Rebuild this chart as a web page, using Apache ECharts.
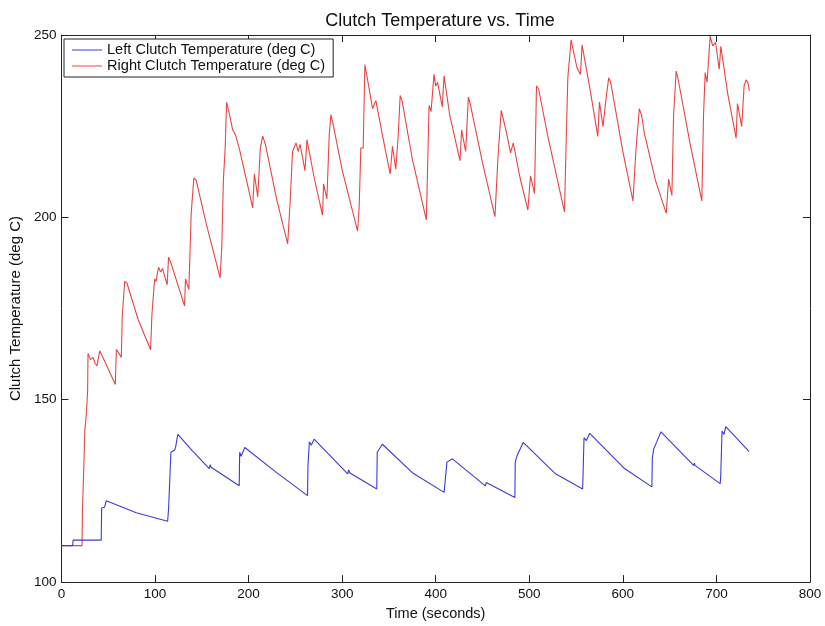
<!DOCTYPE html>
<html>
<head>
<meta charset="utf-8">
<script src="https://cdn.jsdelivr.net/npm/echarts@6/dist/echarts.min.js"></script>
<style>
html,body{margin:0;padding:0;background:#fff;overflow:hidden;}
#c{width:825px;height:626px;}
</style>
</head>
<body>
<div id="c"></div>
<script>
var titleText = 'Clutch Temperature vs. Time';
var xName = 'Time (seconds)';
var yName = 'Clutch Temperature (deg C)';
var leftName = 'Left Clutch Temperature (deg C)';
var rightName = 'Right Clutch Temperature (deg C)';

var leftTime = [0,12,12.5,42.5,43,46,48,80,113.5,114.5,117,121,122,124.4,140,158,159,160,190,190.5,192,196,230,263,263.5,265,267,270,306,307,308,337,337.5,339,343,375,409,410.5,412,414,417.8,453,454,455,484.6,485,487,489,493.5,528,557,557.5,558.5,561,564.6,601,602,603,631,631.5,633,636,640.7,675.6,676.5,677,704,704.5,706,708,710,712,735];
var leftTemp = [110,110,111.5,111.5,120.3,120.5,122.3,119,116.7,120,135.6,136.2,137,140.5,136,131.1,132.2,131.5,126.4,135.6,134.5,136.9,130,123.7,132,138.5,137.5,139.2,129.7,130.8,130,125.5,135.6,136,137.8,130,124.6,128.8,132.9,132.5,133.8,126.4,127.3,126.8,123.2,132.9,134.7,135,138.3,129.7,125.5,130,139.6,138.8,140.8,131.3,131.8,131.2,126.1,134,136.5,138.3,141.2,132,132.6,132,127,128.5,141.4,140.5,142.6,142.6,135.8];

var rightTime = [0,22,22.5,24,25,26.7,28,28.4,31,33.8,36,38,40.9,50,57.6,58.7,62,64,65,67.6,70,82,95.3,96.7,99.6,101,103.8,106,108,113,114.5,117,131.6,132.6,136.2,138.7,141.5,144,155,169.6,171.4,173.1,175,176.5,179,183,186,190,198,204.4,206.2,209.8,212.6,215,218,230,241.8,244.6,247,250.7,253,255,260.3,262.4,270,279,280.2,283.7,286.2,288,290,300,316.5,318.2,320,322.5,324.3,327,332.5,336,345,351.3,353.8,357.3,359.8,362,364,375,390,392.9,395,398.2,400,402,407,408.9,415,426,427.7,432,434.9,437,450,463.3,466.5,470,475,480,482.9,490,498.5,501.3,505.6,507.7,510,520,537.6,539.7,541.2,544.7,546,548,551,554.7,556.4,565,573.2,575,578.8,582,584.9,587,600,610.8,614,617.6,620,623,635,646.4,648.9,652.4,654.2,657,659,672,684.4,686.2,688,690,693.3,696,699,703,704.7,712,721,722.5,727,729.6,731.7,733.5,735.3];
var rightTemp = [110,110,120,132,141.4,146.3,152.3,162.7,161,161.6,160,159.3,163.4,158.5,154.2,163.8,162.5,161.6,172.8,182.4,182,172,163.7,173.3,183.1,182.4,186.3,185,186,181.5,189.1,187.5,175.7,183.1,180.2,201.1,210.8,210.2,198,183.4,192.1,210.3,219,231.5,229,224,222.6,219,210,202.6,211.9,205.6,219,222.3,220,205,192.7,205.1,218.1,220.4,218,220,212.8,221.3,211,200.6,209.2,205.1,222.6,228.2,226,213,196.2,203,219,219,241.9,238,229.8,232,220,211.9,219.5,213.2,221.9,233.4,232,216,199.3,230.7,229,239.2,236,237,230.3,238.8,228,215.5,224,218.1,233,231,215,200.2,216.3,229.3,224,217.7,220.4,211,202,211.4,206.5,236.1,235.2,222,201.5,223.5,238.3,248.7,247,247.5,241,239.2,247.3,235,222.2,231.6,224.9,232.5,238.3,237,218,204.5,218.6,229.8,228,223,210,201.1,210.5,206,228,240.1,238,220,204.5,228,239.7,237,249.7,247,248,240.6,246.9,234,221.7,231.2,224.9,236.1,237.7,237,234.7];

var xTicks = {min: 0, max: 800, interval: 100};
var yTicks = {min: 100, max: 250, interval: 50};

function zip(a, b) { return a.map(function (v, i) { return [v, b[i]]; }); }

var FONT = 'Liberation Sans, Arial, sans-serif';
var AX = '#222';

var chart = echarts.init(document.getElementById('c'), null, {renderer: 'canvas', width: 825, height: 626});
var axisCommon = {
  axisLine: {show: true, onZero: false, lineStyle: {color: AX, width: 1}},
  axisTick: {show: true, inside: true, length: 7, lineStyle: {color: AX}},
  splitLine: {show: false},
  axisLabel: {color: '#111', fontSize: 13, fontFamily: FONT}
};
chart.setOption({
  animation: false,
  backgroundColor: '#fff',
  title: {
    text: titleText, left: 435, top: 7, textAlign: 'center',
    textStyle: {fontSize: 18, fontWeight: 'normal', color: '#111', fontFamily: FONT}
  },
  grid: {left: 60, right: 15, top: 35, bottom: 34, containLabel: false},
  legend: {
    orient: 'vertical', left: 64, top: 39,
    padding: [3, 8, 3, 8], itemGap: 0,
    itemWidth: 30, itemHeight: 1,
    icon: 'rect',
    backgroundColor: '#fff', borderColor: '#222', borderWidth: 1,
    textStyle: {fontSize: 14.6, fontFamily: FONT, color: '#111', lineHeight: 16},
    data: [leftName, rightName]
  },
  xAxis: [
    Object.assign({type: 'value', position: 'bottom', name: xName, nameLocation: 'middle', nameGap: 18,
      nameTextStyle: {fontSize: 14.5, fontFamily: FONT, color: '#111'},
      min: xTicks.min, max: xTicks.max, interval: xTicks.interval}, axisCommon,
      {axisLabel: {color: '#111', fontSize: 13.5, fontFamily: FONT, margin: 5}}),
    Object.assign({type: 'value', position: 'top', min: xTicks.min, max: xTicks.max, interval: xTicks.interval}, axisCommon,
      {axisLabel: {show: false}})
  ],
  yAxis: [
    Object.assign({type: 'value', position: 'left', name: yName, nameLocation: 'middle', nameGap: 35,
      nameTextStyle: {fontSize: 15, fontFamily: FONT, color: '#111'},
      min: yTicks.min, max: yTicks.max, interval: yTicks.interval}, axisCommon,
      {axisLabel: {color: '#111', fontSize: 13.5, fontFamily: FONT, margin: 5}}),
    Object.assign({type: 'value', position: 'right', min: yTicks.min, max: yTicks.max, interval: yTicks.interval}, axisCommon,
      {axisLabel: {show: false}})
  ],
  series: [
    {name: leftName, type: 'line', data: zip(leftTime, leftTemp), showSymbol: false, symbol: 'none',
      lineStyle: {color: '#3a3ad8', width: 1.1}, itemStyle: {color: '#3a3ad8'}, z: 3},
    {name: rightName, type: 'line', data: zip(rightTime, rightTemp), showSymbol: false, symbol: 'none',
      lineStyle: {color: '#e84444', width: 1.1}, itemStyle: {color: '#e84444'}, z: 2}
  ]
});
</script>
</body>
</html>
